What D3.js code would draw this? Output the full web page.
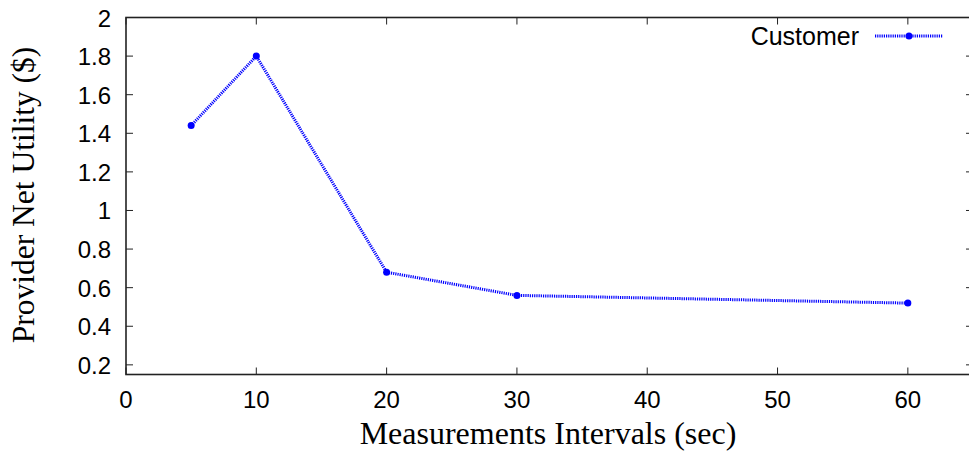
<!DOCTYPE html>
<html>
<head>
<meta charset="utf-8">
<script src="https://cdn.jsdelivr.net/npm/d3@7"></script>
<style>
  body { margin: 0; background: #fff; }
  svg { display: block; }
</style>
</head>
<body>
<svg id="chart"></svg>
<script>
// data
let intervals = [5, 10, 20, 30, 60];
let utility = [1.44, 1.8, 0.68, 0.56, 0.52];
let seriesName = "Customer";
let xTicks = [0, 10, 20, 30, 40, 50, 60];
let yTicks = [0.2, 0.4, 0.6, 0.8, 1, 1.2, 1.4, 1.6, 1.8, 2];

let canvas = {
  "width": 969,
  "height": 457,
  "marginLeft": 126,
  "marginTop": 17.5,
  "right": 973,
  "bottom": 374.5
};

let svg = d3.select("#chart")
  .attr("width", canvas.width)
  .attr("height", canvas.height);

let xScale = d3.scaleLinear()
  .domain([0, 65])
  .range([canvas.marginLeft, canvas.right]);

let yScale = d3.scaleLinear()
  .domain([0.15, 2])
  .range([canvas.bottom, canvas.marginTop]);

let tickLen = 7;
let borderColor = "#222";
let sans = "'Liberation Sans', Arial, sans-serif";
let serif = "'Liberation Serif', 'Times New Roman', serif";

// ticks (gnuplot style, inward and mirrored)
let ticks = svg.append("g").attr("stroke", borderColor).attr("stroke-width", 1);
ticks.selectAll(".xb").data(xTicks).join("line")
  .attr("x1", d => xScale(d)).attr("x2", d => xScale(d))
  .attr("y1", canvas.bottom).attr("y2", canvas.bottom - tickLen);
ticks.selectAll(".xt").data(xTicks).join("line")
  .attr("x1", d => xScale(d)).attr("x2", d => xScale(d))
  .attr("y1", canvas.marginTop).attr("y2", canvas.marginTop + tickLen);
ticks.selectAll(".yl").data(yTicks).join("line")
  .attr("x1", canvas.marginLeft).attr("x2", canvas.marginLeft + tickLen)
  .attr("y1", d => yScale(d)).attr("y2", d => yScale(d));
ticks.selectAll(".yr").data(yTicks).join("line")
  .attr("x1", canvas.right).attr("x2", canvas.right - tickLen)
  .attr("y1", d => yScale(d)).attr("y2", d => yScale(d));

// border
svg.append("rect")
  .attr("x", canvas.marginLeft)
  .attr("y", canvas.marginTop)
  .attr("width", canvas.right - canvas.marginLeft)
  .attr("height", canvas.bottom - canvas.marginTop)
  .attr("fill", "none")
  .attr("stroke", borderColor)
  .attr("stroke-width", 1.6);

// tick labels
svg.append("g").selectAll("text").data(xTicks).join("text")
  .attr("x", d => xScale(d))
  .attr("y", 408)
  .attr("text-anchor", "middle")
  .attr("font-family", sans)
  .attr("font-size", "24px")
  .text(d => d);

svg.append("g").selectAll("text").data(yTicks).join("text")
  .attr("x", 111)
  .attr("y", d => yScale(d) + 9)
  .attr("text-anchor", "end")
  .attr("font-family", sans)
  .attr("font-size", "24px")
  .text(d => d);

// axis titles
svg.append("text")
  .attr("x", 548)
  .attr("y", 444)
  .attr("text-anchor", "middle")
  .attr("font-family", serif)
  .attr("font-size", "32px")
  .text("Measurements Intervals (sec)");

svg.append("text")
  .attr("transform", `translate(34, 195) rotate(-90)`)
  .attr("text-anchor", "middle")
  .attr("font-family", serif)
  .attr("font-size", "31.5px")
  .text("Provider Net Utility ($)");

// series
let points = intervals.map((d, i) => ({x: d, y: utility[i]}));
let line = d3.line().x(d => xScale(d.x)).y(d => yScale(d.y));

svg.append("path")
  .datum(points)
  .attr("d", line)
  .attr("fill", "none")
  .attr("stroke", "#0000ff")
  .attr("stroke-width", 3)
  .attr("stroke-dasharray", "1.2,1");

svg.append("g").selectAll("circle").data(points).join("circle")
  .attr("cx", d => xScale(d.x))
  .attr("cy", d => yScale(d.y))
  .attr("r", 3.5)
  .attr("fill", "#0000ff");

// legend
let legend = svg.append("g");
legend.append("text")
  .attr("x", 859)
  .attr("y", 45)
  .attr("text-anchor", "end")
  .attr("font-family", sans)
  .attr("font-size", "25px")
  .text(seriesName);
legend.append("line")
  .attr("x1", 875).attr("x2", 943)
  .attr("y1", 36).attr("y2", 36)
  .attr("stroke", "#0000ff")
  .attr("stroke-width", 3)
  .attr("stroke-dasharray", "1.2,1");
legend.append("circle")
  .attr("cx", 909).attr("cy", 36)
  .attr("r", 3.5)
  .attr("fill", "#0000ff");
</script>
</body>
</html>
